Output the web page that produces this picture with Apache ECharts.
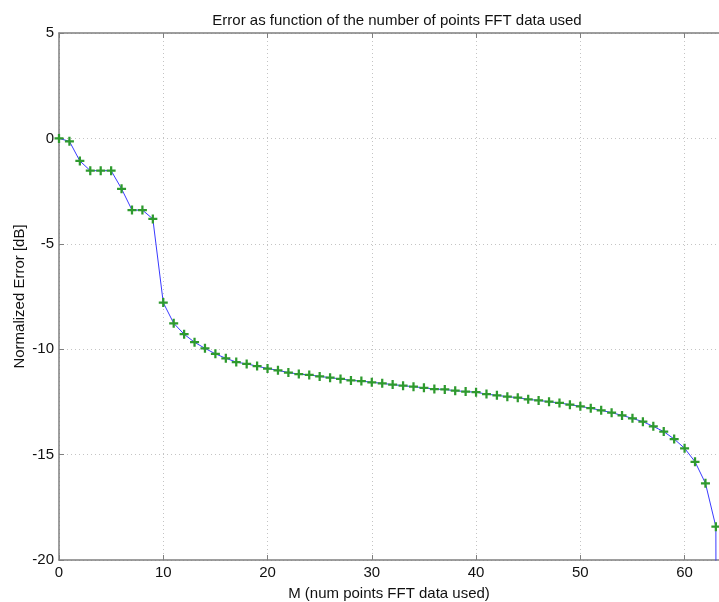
<!DOCTYPE html>
<html>
<head>
<meta charset="utf-8">
<title>Error vs number of FFT points</title>
<script src="https://cdn.jsdelivr.net/npm/echarts@6/dist/echarts.min.js"></script>
<style>
    html, body { margin: 0; padding: 0; background: #fff; }
    #main { width: 719px; height: 602px; }
</style>
</head>
<body>
<div id="main"></div>
<script>
// M values and normalized error
var mPoints = [0, 1, 2, 3, 4, 5, 6, 7, 8, 9, 10, 11, 12, 13, 14, 15, 16, 17, 18, 19,
    20, 21, 22, 23, 24, 25, 26, 27, 28, 29, 30, 31, 32, 33, 34, 35, 36, 37, 38, 39,
    40, 41, 42, 43, 44, 45, 46, 47, 48, 49, 50, 51, 52, 53, 54, 55, 56, 57, 58, 59,
    60, 61, 62, 63, 64];
var errorDb = [0, -0.14, -1.07, -1.53, -1.53, -1.53, -2.39, -3.40, -3.40, -3.82,
    -7.79, -8.77, -9.29, -9.67, -9.96, -10.22, -10.43, -10.61, -10.70, -10.80,
    -10.92, -11.00, -11.11, -11.18, -11.22, -11.29, -11.35, -11.41, -11.48, -11.51,
    -11.57, -11.62, -11.68, -11.73, -11.78, -11.83, -11.89, -11.91, -11.97, -12.01,
    -12.04, -12.13, -12.19, -12.25, -12.30, -12.38, -12.43, -12.49, -12.55, -12.63,
    -12.71, -12.80, -12.90, -13.01, -13.14, -13.28, -13.44, -13.66, -13.91, -14.26,
    -14.70, -15.34, -16.36, -18.42, -300];
// the picture is cut off just past M = 63
var xTicks = { min: 0, max: 63.3, step: 10 };
var yTicks = { min: -20, max: 5, step: 5 };

var chartTitle = 'Error as function of the number of points FFT data used';
var xName = 'M (num points FFT data used)';
var yName = 'Normalized Error [dB]';

var seriesData = [];
for (var i = 0; i < mPoints.length; i++) {
    seriesData.push([mPoints[i], errorDb[i]]);
}

var font = '"Liberation Sans", Arial, sans-serif';
var axisGrey = '#7f7f7f';
var gridLine = { show: true, lineStyle: { color: '#c4c4c4', type: [1, 3], width: 1 } };

var chart = echarts.init(document.getElementById('main'));

var option = {
    backgroundColor: '#fff',
    animation: false,
    title: {
        text: chartTitle,
        left: 392,
        top: 8,
        textAlign: 'center',
        textStyle: {
            fontFamily: font,
            fontSize: 15,
            fontWeight: 'normal',
            color: '#111'
        }
    },
    grid: {
        left: 59,
        top: 33,
        right: 0,
        height: 527,
        outerBoundsMode: 'none'
    },
    xAxis: [{
        type: 'value',
        min: xTicks.min,
        max: xTicks.max,
        interval: xTicks.step,
        name: xName,
        nameLocation: 'middle',
        nameGap: 26,
        nameMoveOverlap: false,
        nameTextStyle: { fontFamily: font, fontSize: 15, color: '#111' },
        axisLine: { onZero: false, lineStyle: { color: axisGrey, width: 1.5 } },
        axisTick: { inside: true, length: 5, lineStyle: { color: axisGrey } },
        axisLabel: {
            fontFamily: font,
            fontSize: 15,
            color: '#111',
            margin: 5,
            showMaxLabel: false
        },
        splitLine: gridLine
    }, {
        type: 'value',
        position: 'top',
        min: xTicks.min,
        max: xTicks.max,
        interval: xTicks.step,
        axisLine: { onZero: false, lineStyle: { color: axisGrey, width: 1.5 } },
        axisTick: { inside: true, length: 5, lineStyle: { color: axisGrey } },
        axisLabel: { show: false },
        splitLine: { show: false }
    }],
    yAxis: {
        type: 'value',
        min: yTicks.min,
        max: yTicks.max,
        interval: yTicks.step,
        name: yName,
        nameLocation: 'middle',
        nameGap: 32,
        nameMoveOverlap: false,
        nameTextStyle: { fontFamily: font, fontSize: 15, color: '#111' },
        axisLine: { show: true, onZero: false, lineStyle: { color: axisGrey, width: 1.5 } },
        axisTick: { show: true, inside: true, length: 5, lineStyle: { color: axisGrey } },
        axisLabel: {
            fontFamily: font,
            fontSize: 15,
            color: '#111',
            margin: 5
        },
        splitLine: gridLine
    },
    series: [{
        type: 'line',
        data: seriesData,
        clip: true,
        symbol: 'path://M3,0h2v3h3v2h-3v3h-2v-3h-3v-2h3z',
        symbolSize: 9,
        itemStyle: { color: '#2e9a2e' },
        lineStyle: { color: '#3a3aff', width: 1 },
        z: 3
    }]
};
chart.setOption(option);
</script>
</body>
</html>
